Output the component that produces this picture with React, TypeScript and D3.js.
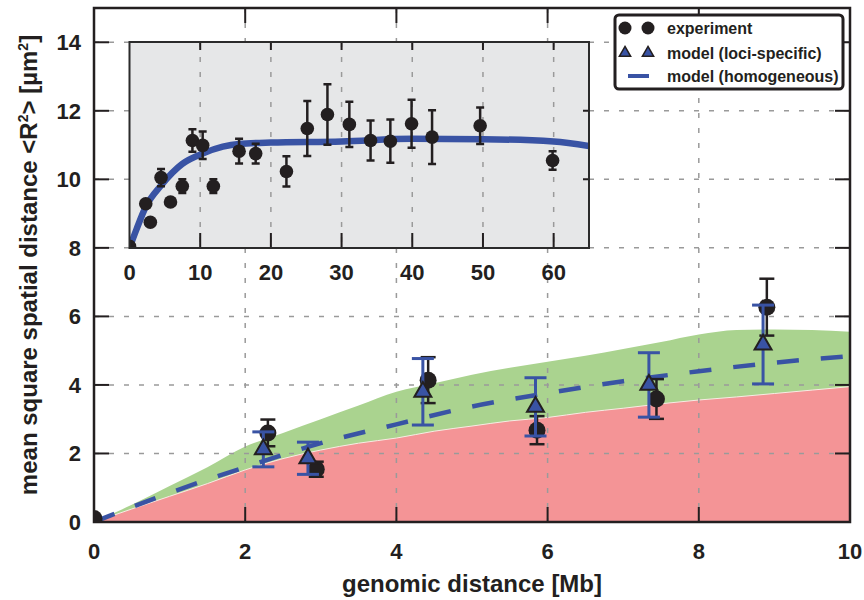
import React from 'react';
import * as d3 from 'd3';

// main panel: experiment (black circles)
const expX = [0, 2.3, 2.94, 4.42, 5.86, 7.44, 8.9];
const expY = [0.1, 2.6, 1.54, 4.14, 2.68, 3.59, 6.27];
const expErr = [0, 0.39, 0.22, 0.67, 0.41, 0.58, 0.83];

// main panel: model (loci-specific) triangles
const locX = [2.24, 2.83, 4.35, 5.84, 7.34, 8.85];
const locY = [2.12, 1.86, 3.8, 3.36, 4.0, 5.18];
const locErr = [0.51, 0.47, 0.97, 0.85, 0.94, 1.15];

// model (homogeneous) dashed line
const homX = [0, 1, 2, 3, 4, 5, 6, 7, 8, 9, 10];
const homY = [0, 0.85, 1.6, 2.3, 2.85, 3.37, 3.76, 4.11, 4.4, 4.65, 4.84];

// shaded bands
const bandX = [0, 0.5, 1, 1.5, 2, 2.5, 3, 3.5, 4, 4.5, 5, 5.5, 6, 6.5, 7, 7.5, 8, 8.5, 9, 9.5, 10];
const greenY = [0, 0.5, 1.05, 1.6, 2.2, 2.6, 3.0, 3.4, 3.8, 4.05, 4.3, 4.5, 4.68, 4.85, 5.05, 5.25, 5.47, 5.6, 5.62, 5.6, 5.55];
const redY = [0, 0.38, 0.75, 1.12, 1.52, 1.85, 2.1, 2.3, 2.45, 2.65, 2.8, 2.95, 3.05, 3.2, 3.32, 3.45, 3.56, 3.65, 3.75, 3.85, 3.95];

// inset
const insX = [0, 2.3, 2.95, 4.46, 5.8, 7.47, 8.9, 10.35, 11.86, 15.5, 17.85, 22.2, 25.15, 28.0, 31.1, 34.1, 36.9, 39.9, 42.8, 49.6, 59.85];
const insY = [8.05, 9.29, 8.75, 10.05, 9.34, 9.8, 11.13, 10.99, 9.8, 10.82, 10.75, 10.23, 11.48, 11.89, 11.6, 11.13, 11.11, 11.62, 11.23, 11.56, 10.55];
const insErr = [0, 0, 0, 0.25, 0, 0.2, 0.33, 0.4, 0.2, 0.36, 0.29, 0.44, 0.8, 0.88, 0.66, 0.58, 0.63, 0.7, 0.78, 0.53, 0.27];
const fitX = [0, 1, 2.3, 4.46, 7.47, 10.35, 13.2, 15.5, 20, 30, 40, 50, 60, 65];
const fitY = [8.0, 8.55, 9.2, 9.82, 10.45, 10.75, 10.95, 11.03, 11.07, 11.1, 11.18, 11.17, 11.1, 10.97];

const xTicks = [0, 2, 4, 6, 8, 10];
const yTicks = [0, 2, 4, 6, 8, 10, 12, 14];
const insTicks = [0, 10, 20, 30, 40, 50, 60];

const legendLabels = ['experiment', 'model (loci-specific)', 'model (homogeneous)'];

const BLUE = '#3953a4';
const DARK = '#231f20';
const FONT = '"Liberation Sans", Arial, Helvetica, sans-serif';

export default function App() {
  const L = 94, R = 850, T = 8, B = 522;
  const x = d3.scaleLinear().domain([0, 10]).range([L, R]);
  const y = d3.scaleLinear().domain([0, 15]).range([B, T]);

  const iL = 129.5, iR = 589, iT = 42, iB = 248;
  const ix = d3.scaleLinear().domain([0, 65]).range([iL, iR]);
  const iy = d3.scaleLinear().domain([8, 14]).range([iB, iT]);

  const green = d3.area<number>().x((_, i) => x(bandX[i])).y0(B).y1((d) => y(d)).curve(d3.curveMonotoneX)(greenY);
  const red = d3.area<number>().x((_, i) => x(bandX[i])).y0(B).y1((d) => y(d)).curve(d3.curveMonotoneX)(redY);
  const redTop = d3.line<number>().x((_, i) => x(bandX[i])).y((d) => y(d)).curve(d3.curveMonotoneX)(redY);
  const hom = d3.line<number>().x((_, i) => x(homX[i])).y((d) => y(d)).curve(d3.curveMonotoneX)(homY);
  const fit = d3.line<number>().x((_, i) => ix(fitX[i])).y((d) => iy(d)).curve(d3.curveMonotoneX)(fitY);
  const tri = d3.symbol(d3.symbolTriangle, 125)();

  const tick = 15;

  return (
    <svg width={864} height={600} style={{ position: 'absolute', left: 0, top: 0 }} fontFamily={FONT} fontWeight="bold">
      <defs>
        <clipPath id="mainClip"><rect x={L} y={T} width={R - L} height={B - T} /></clipPath>
        <clipPath id="insClip"><rect x={iL} y={iT} width={iR - iL} height={iB - iT} /></clipPath>
      </defs>
      <rect width={864} height={600} fill="#fff" />
      <g clipPath="url(#mainClip)">
        <path d={green ?? ''} fill="#aad38f" />
        <path d={red ?? ''} fill="#f49496" />
        <path d={redTop ?? ''} fill="none" stroke="#f7ece4" strokeWidth={1} />
        {xTicks.slice(1, -1).map((t) => (
          <line key={'gx' + t} x1={x(t)} x2={x(t)} y1={T} y2={B} stroke="#9a9a9a" strokeWidth={1.5} strokeDasharray="5 10" />
        ))}
        {yTicks.slice(1).map((t) => (
          <line key={'gy' + t} x1={L} x2={R} y1={y(t)} y2={y(t)} stroke="#9a9a9a" strokeWidth={1.5} strokeDasharray="5 10" />
        ))}
        <path d={hom ?? ''} fill="none" stroke={BLUE} strokeWidth={4.5} strokeDasharray="22 22" />
        {expX.map((d, i) => (
          <g key={'e' + i} stroke={DARK} strokeWidth={2.5}>
            {expErr[i] > 0 && (
              <>
                <line x1={x(d)} x2={x(d)} y1={y(expY[i] + expErr[i])} y2={y(expY[i] - expErr[i])} />
                <line x1={x(d) - 7.5} x2={x(d) + 7.5} y1={y(expY[i] + expErr[i])} y2={y(expY[i] + expErr[i])} />
                <line x1={x(d) - 7.5} x2={x(d) + 7.5} y1={y(expY[i] - expErr[i])} y2={y(expY[i] - expErr[i])} />
              </>
            )}
          </g>
        ))}
        {expX.map((d, i) => (
          <circle key={'c' + i} cx={x(d)} cy={y(expY[i])} r={8.5} fill={DARK} />
        ))}
        {locX.map((d, i) => (
          <g key={'l' + i} stroke={BLUE} strokeWidth={3}>
            <line x1={x(d)} x2={x(d)} y1={y(locY[i] + locErr[i])} y2={y(locY[i] - locErr[i])} />
            <line x1={x(d) - 11} x2={x(d) + 11} y1={y(locY[i] + locErr[i])} y2={y(locY[i] + locErr[i])} />
            <line x1={x(d) - 11} x2={x(d) + 11} y1={y(locY[i] - locErr[i])} y2={y(locY[i] - locErr[i])} />
          </g>
        ))}
        {locX.map((d, i) => (
          <path key={'t' + i} d={tri ?? ''} transform={`translate(${x(d)},${y(locY[i])})`} fill={BLUE} stroke={DARK} strokeWidth={2} strokeLinejoin="miter" />
        ))}
      </g>

      {/* main ticks, inward on all four sides */}
      <g stroke={DARK} strokeWidth={2}>
        {xTicks.slice(1, -1).map((t) => (
          <g key={'tx' + t}>
            <line x1={x(t)} x2={x(t)} y1={B} y2={B - tick} />
            <line x1={x(t)} x2={x(t)} y1={T} y2={T + tick} />
          </g>
        ))}
        {yTicks.slice(1).map((t) => (
          <g key={'ty' + t}>
            <line x1={L} x2={L + tick} y1={y(t)} y2={y(t)} />
            <line x1={R} x2={R - tick} y1={y(t)} y2={y(t)} />
          </g>
        ))}
      </g>
      <rect x={L} y={T} width={R - L} height={B - T} fill="none" stroke={DARK} strokeWidth={2.5} />

      {xTicks.map((t) => (
        <text key={'lx' + t} x={x(t)} y={559} textAnchor="middle" fontSize={22} fill={DARK}>{t}</text>
      ))}
      {yTicks.map((t) => (
        <text key={'ly' + t} x={81} y={y(t) + 8} textAnchor="end" fontSize={22} fill={DARK}>{t}</text>
      ))}
      <text x={(L + R) / 2} y={592} textAnchor="middle" fontSize={24} fill={DARK}>genomic distance [Mb]</text>
      <text transform={`translate(37,${(T + B) / 2}) rotate(-90)`} textAnchor="middle" fontSize={24} fill={DARK}>
        mean square spatial distance {'<R'}<tspan fontSize={14} dy={-9}>2</tspan><tspan dy={9}>{'> [µm'}</tspan><tspan fontSize={14} dy={-9}>2</tspan><tspan dy={9}>]</tspan>
      </text>

      {/* inset */}
      <rect x={iL} y={iT} width={iR - iL} height={iB - iT} fill="#e6e7e8" />
      <g clipPath="url(#insClip)">
        {insTicks.slice(1).map((t) => (
          <line key={'ig' + t} x1={ix(t)} x2={ix(t)} y1={iT} y2={iB} stroke="#9a9a9a" strokeWidth={1.5} strokeDasharray="5 10" />
        ))}
        <g stroke={DARK} strokeWidth={2}>
          {insTicks.slice(1).map((t) => (
            <g key={'it' + t}>
              <line x1={ix(t)} x2={ix(t)} y1={iB} y2={iB - 15} />
              <line x1={ix(t)} x2={ix(t)} y1={iT} y2={iT + 8} />
            </g>
          ))}
          {[10, 12].map((t) => (
            <line key={'ir' + t} x1={iR} x2={iR - 6} y1={iy(t)} y2={iy(t)} />
          ))}
        </g>
        <path d={fit ?? ''} fill="none" stroke={BLUE} strokeWidth={6.5} />
        {insX.map((d, i) => (
          <g key={'ie' + i} stroke={DARK} strokeWidth={2.5}>
            {insErr[i] > 0 && (
              <>
                <line x1={ix(d)} x2={ix(d)} y1={iy(insY[i] + insErr[i])} y2={iy(insY[i] - insErr[i])} />
                <line x1={ix(d) - 4} x2={ix(d) + 4} y1={iy(insY[i] + insErr[i])} y2={iy(insY[i] + insErr[i])} />
                <line x1={ix(d) - 4} x2={ix(d) + 4} y1={iy(insY[i] - insErr[i])} y2={iy(insY[i] - insErr[i])} />
              </>
            )}
          </g>
        ))}
        {insX.map((d, i) => (
          <circle key={'ic' + i} cx={ix(d)} cy={iy(insY[i])} r={6.8} fill={DARK} />
        ))}
      </g>
      <rect x={iL} y={iT} width={iR - iL} height={iB - iT} fill="none" stroke="#2b2b2b" strokeWidth={2} />
      {insTicks.map((t) => (
        <text key={'il' + t} x={ix(t)} y={280} textAnchor="middle" fontSize={22} fill={DARK}>{t}</text>
      ))}

      {/* legend */}
      <rect x={615} y={15} width={228} height={74} rx={4} fill="#fff" stroke={DARK} strokeWidth={3} />
      <circle cx={625} cy={28} r={6.5} fill={DARK} />
      <circle cx={648} cy={28} r={6.5} fill={DARK} />
      <path d={d3.symbol(d3.symbolTriangle, 55)() ?? ''} transform="translate(625,53)" fill={BLUE} stroke={DARK} strokeWidth={1.5} />
      <path d={d3.symbol(d3.symbolTriangle, 55)() ?? ''} transform="translate(648,53)" fill={BLUE} stroke={DARK} strokeWidth={1.5} />
      <line x1={628} x2={649} y1={76} y2={76} stroke={BLUE} strokeWidth={4} />
      {legendLabels.map((s, i) => (
        <text key={s} x={667} y={[28, 53, 76][i] + 5.5} fontSize={16} fill={DARK}>{s}</text>
      ))}
    </svg>
  );
}
